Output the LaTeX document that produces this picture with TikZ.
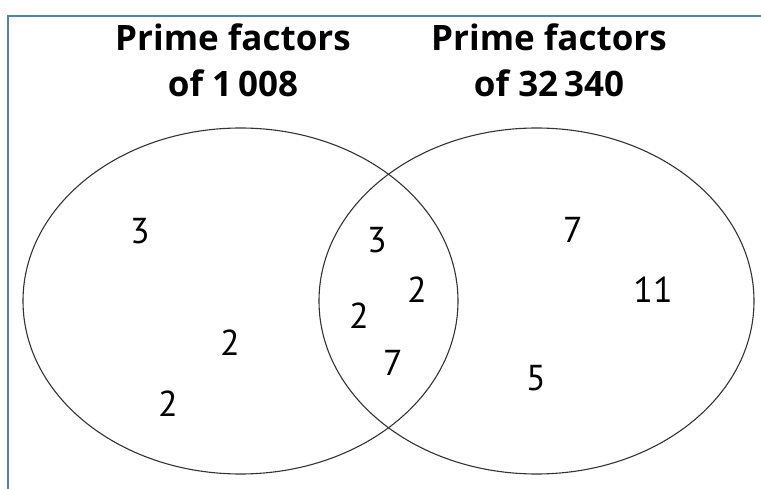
\documentclass[tikz,border=0pt]{standalone}
\usepackage{fontspec}
\setmainfont{PT Sans}
\newfontfamily\titlefont{Open Sans}
\usetikzlibrary{shapes.geometric}
\definecolor{frameblue}{HTML}{4F81BD}
\definecolor{linegray}{HTML}{333333}
\begin{document}
\begin{tikzpicture}[x=1pt,y=-1pt,
  ttl/.style={font=\titlefont\fontsize{35}{42}\selectfont\bfseries, anchor=base, inner sep=0pt},
  num/.style={font=\fontsize{36}{40}\selectfont, inner sep=0pt},
  setline/.style={draw=linegray, line width=1.1pt}]
\useasboundingbox (0,0) rectangle (761,489);
\coordinate (fa) at (8,489);
\coordinate (fb) at (8,16);
\coordinate (fc) at (761,16);
\draw[frameblue, line width=2pt] (fa) -- (fb) -- (fc);
\node[setline, ellipse, minimum width=435pt, minimum height=346pt, inner sep=0pt] (A) at (240.5,301) {};
\node[setline, ellipse, minimum width=435pt, minimum height=346pt, inner sep=0pt] (B) at (536.5,301) {};
\node[ttl] (tA1) at (233,51) {Prime factors};
\node[ttl] (tA2) at (233,97) {of 1\,008};
\node[ttl] (tB1) at (549,51) {Prime factors};
\node[ttl] (tB2) at (549,97) {of 32\,340};
\node[num] (a1) at (140,231) {3};
\node[num] (a2) at (230,343) {2};
\node[num] (a3) at (168,404) {2};
\node[num] (c1) at (377,240) {3};
\node[num] (c2) at (417,290) {2};
\node[num] (c3) at (359,316) {2};
\node[num] (c4) at (393,363) {7};
\node[num] (b1) at (573,230) {7};
\node[num] (b2) at (653,290) {11};
\node[num] (b3) at (536,378) {5};
\end{tikzpicture}
\end{document}
